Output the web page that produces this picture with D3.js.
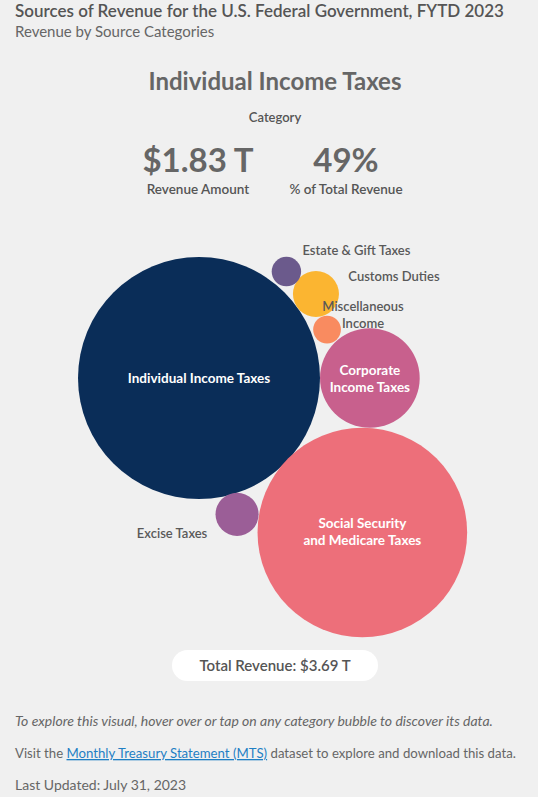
<!DOCTYPE html>
<html lang="en">
<head>
    <meta charset="UTF-8">
    <title>Sources of Revenue</title>
    <script src="https://d3js.org/d3.v7.min.js"></script>
    <style>
        body {
            margin: 0;
            background: #f0f0f0;
            font-family: Lato, "Noto Sans", sans-serif;
        }
        .dark { fill: #555; }
        .mid { fill: #666; }
        .inside { fill: #fff; font-weight: 700; font-size: 13.5px; }
        .outside { fill: #595959; font-weight: 600; font-size: 13px; }
    </style>
</head>
<body>
<div id="chart"></div>
<script>
    // data (trillions of dollars)
    const categories = ["Individual Income Taxes", "Social Security and Medicare Taxes", "Corporate Income Taxes",
                        "Excise Taxes", "Customs Duties", "Estate & Gift Taxes", "Miscellaneous Income"];
    const revenue = [1.826, 1.37, 0.31, 0.058, 0.066, 0.027, 0.024];
    const colors = ["#0a2d58", "#ed6f7a", "#c8608d", "#9b5e97", "#fbb531", "#6b5a8c", "#f98b60"];
    const totalRevenue = 3.69;

    // layout: each small bubble sits against the big one at an angle (degrees)
    const angles = [null, 43.4, 0, 74.4, -35.7, -50.6, -20.7];
    const gaps = [0, -1, 0, -1, 0, 2, 2];

    const W = 538, H = 797;
    const svg = d3.select("#chart").append("svg")
        .attr("width", W)
        .attr("height", H);

    // header
    svg.append("text").attr("class", "dark")
        .attr("x", 15).attr("y", 17)
        .style("font-size", "17px").style("font-weight", 600)
        .text("Sources of Revenue for the U.S. Federal Government, FYTD 2023");
    svg.append("text").attr("class", "mid")
        .attr("x", 15).attr("y", 37)
        .style("font-size", "15px")
        .text("Revenue by Source Categories");

    // detail panel for the selected category
    const sel = 0;
    const fmtT = v => "$" + d3.format(".2f")(v) + " T";
    svg.append("text").attr("class", "mid")
        .attr("x", 275).attr("y", 90).attr("text-anchor", "middle")
        .style("font-size", "24px").style("font-weight", 700)
        .text(categories[sel]);
    svg.append("text").attr("class", "dark")
        .attr("x", 275).attr("y", 122).attr("text-anchor", "middle")
        .style("font-size", "13px").style("font-weight", 600)
        .text("Category");
    svg.append("text").attr("class", "mid")
        .attr("x", 198).attr("y", 172).attr("text-anchor", "middle")
        .style("font-size", "33px").style("font-weight", 700)
        .text(fmtT(revenue[sel]));
    svg.append("text").attr("class", "mid")
        .attr("x", 346).attr("y", 172).attr("text-anchor", "middle")
        .style("font-size", "33px").style("font-weight", 700)
        .text(Math.round(revenue[sel] / totalRevenue * 100) + "%");
    svg.append("text").attr("class", "dark")
        .attr("x", 198).attr("y", 194).attr("text-anchor", "middle")
        .style("font-size", "13.5px").style("font-weight", 600)
        .text("Revenue Amount");
    svg.append("text").attr("class", "dark")
        .attr("x", 346).attr("y", 194).attr("text-anchor", "middle")
        .style("font-size", "13.5px").style("font-weight", 600)
        .text("% of Total Revenue");

    // bubbles
    const rScale = d3.scaleSqrt()
        .domain([0, d3.max(revenue)])
        .range([0, 121]);

    const cx0 = 199, cy0 = 378;
    const nodes = categories.map((c, i) => ({ name: c, value: revenue[i], color: colors[i], r: rScale(revenue[i]) }));
    nodes.forEach((n, i) => {
        if (angles[i] === null) { n.x = cx0; n.y = cy0; return; }
        const a = angles[i] * Math.PI / 180;
        const d = nodes[0].r + n.r + gaps[i];
        n.x = cx0 + d * Math.cos(a);
        n.y = cy0 + d * Math.sin(a);
    });

    svg.append("g").selectAll("circle")
        .data(nodes)
        .enter()
        .append("circle")
        .attr("cx", d => d.x)
        .attr("cy", d => d.y)
        .attr("r", d => d.r)
        .attr("fill", d => d.color);

    // labels inside the big bubbles, outside the small ones
    const labelLines = {
        "Individual Income Taxes": { lines: ["Individual Income Taxes"], inside: true, dx: 0, dy: 0 },
        "Social Security and Medicare Taxes": { lines: ["Social Security", "and Medicare Taxes"], inside: true, dx: 0, dy: 0 },
        "Corporate Income Taxes": { lines: ["Corporate", "Income Taxes"], inside: true, dx: 0, dy: 1 },
        "Excise Taxes": { lines: ["Excise Taxes"], inside: false, dx: -65, dy: 19 },
        "Customs Duties": { lines: ["Customs Duties"], inside: false, dx: 78, dy: -17 },
        "Estate & Gift Taxes": { lines: ["Estate & Gift Taxes"], inside: false, dx: 70, dy: -21 },
        "Miscellaneous Income": { lines: ["Miscellaneous", "Income"], inside: false, dx: 36, dy: -15 }
    };

    const labels = svg.append("g").selectAll("text")
        .data(nodes)
        .enter()
        .append("text")
        .attr("class", d => labelLines[d.name].inside ? "inside" : "outside")
        .attr("text-anchor", "middle")
        .attr("transform", d => `translate(${d.x + labelLines[d.name].dx},${d.y + labelLines[d.name].dy})`);

    labels.selectAll("tspan")
        .data(d => labelLines[d.name].lines.map((l, i, arr) => ({ text: l, i: i, n: arr.length })))
        .enter()
        .append("tspan")
        .attr("x", 0)
        .attr("y", d => (d.i - (d.n - 1) / 2) * 17 + 4.5)
        .text(d => d.text);

    // total pill
    svg.append("rect")
        .attr("x", 172).attr("y", 650)
        .attr("width", 206).attr("height", 31)
        .attr("rx", 15.5)
        .attr("fill", "#fff");
    svg.append("text").attr("class", "dark")
        .attr("x", 275).attr("y", 671).attr("text-anchor", "middle")
        .style("font-size", "15px").style("font-weight", 600)
        .text("Total Revenue: " + fmtT(totalRevenue));

    // notes
    svg.append("text").attr("class", "mid")
        .attr("x", 15).attr("y", 726)
        .style("font-size", "14px").style("font-style", "italic")
        .text("To explore this visual, hover over or tap on any category bubble to discover its data.");
    const visit = svg.append("text").attr("class", "mid")
        .attr("x", 15).attr("y", 758)
        .style("font-size", "13.2px");
    visit.append("tspan").text("Visit the ");
    visit.append("tspan")
        .style("fill", "#1f7fc4")
        .style("text-decoration", "underline")
        .text("Monthly Treasury Statement (MTS)");
    visit.append("tspan").text(" dataset to explore and download this data.");
    svg.append("text").attr("class", "mid")
        .attr("x", 15).attr("y", 790)
        .style("font-size", "14px")
        .text("Last Updated: July 31, 2023");
</script>
</body>
</html>
